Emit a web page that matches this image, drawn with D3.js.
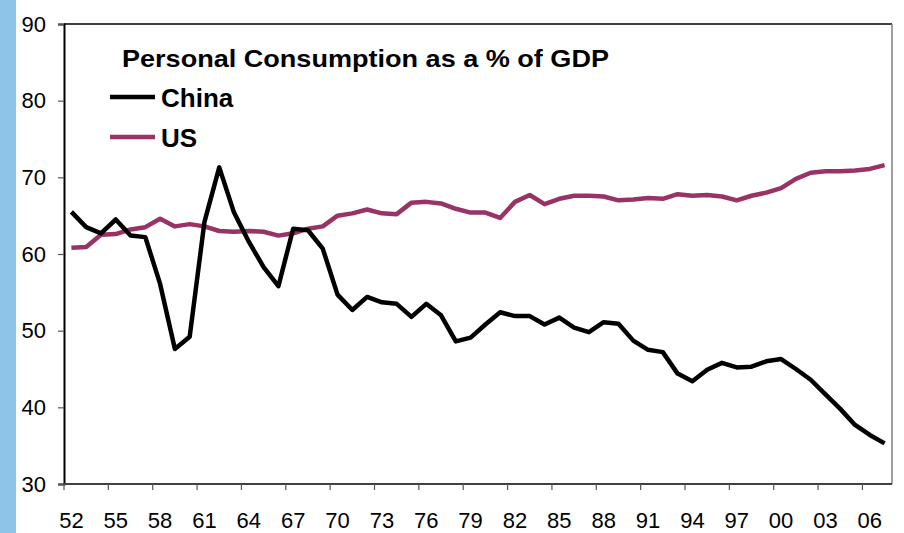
<!DOCTYPE html>
<html lang="en-US">
<head>
<meta charset="utf-8">
<title>Personal Consumption as a % of GDP</title>
<style>
  body { margin: 0; background: #fff; }
  svg { display: block; font-family: "Liberation Sans", Arial, sans-serif; }
</style>
</head>
<body>
<div id="chart"></div>
<script src="https://d3js.org/d3.v7.min.js"></script>
<script>
// years 1952 - 2007
var years = d3.range(1952, 2008);
var yTicks = [30, 40, 50, 60, 70, 80, 90];

var china = [65.5, 63.5, 62.7, 64.5, 62.4, 62.2, 56.1, 47.6, 49.2, 64.2,
             71.3, 65.4, 61.6, 58.3, 55.8, 63.3, 63.1, 60.7, 54.7, 52.7,
             54.4, 53.7, 53.5, 51.8, 53.5, 52.0, 48.6, 49.1, 50.8, 52.4,
             51.9, 51.9, 50.8, 51.7, 50.4, 49.8, 51.1, 50.9, 48.7, 47.5,
             47.2, 44.4, 43.4, 44.9, 45.8, 45.2, 45.3, 46.0, 46.3, 45.0,
             43.6, 41.7, 39.8, 37.7, 36.4, 35.3];

var us = [60.8, 60.9, 62.5, 62.6, 63.2, 63.5, 64.6, 63.6, 63.9, 63.6,
          63.0, 62.9, 63.0, 62.9, 62.4, 62.7, 63.3, 63.6, 65.0, 65.3,
          65.8, 65.3, 65.2, 66.7, 66.8, 66.6, 65.9, 65.4, 65.4, 64.7,
          66.8, 67.7, 66.5, 67.2, 67.6, 67.6, 67.5, 67.0, 67.1, 67.3,
          67.2, 67.8, 67.6, 67.7, 67.5, 67.0, 67.6, 68.0, 68.6, 69.8,
          70.6, 70.8, 70.8, 70.9, 71.1, 71.6];

var width = 904, height = 533;
// plot area edges (don't use "top" - that's window.top)
var pLeft = 64, pRight = 892, pTop = 24, pBottom = 484;

var svg = d3.select("#chart").append("svg")
    .attr("width", width)
    .attr("height", height);

// blue strip on the left edge
svg.append("rect")
    .attr("x", 0).attr("y", 0)
    .attr("width", 16).attr("height", height)
    .attr("fill", "#8EC4E8");

var x = d3.scaleBand()
    .domain(years)
    .range([pLeft, pRight])
    .padding(0);

var y = d3.scaleLinear()
    .domain([30, 90])
    .range([pBottom, pTop]);

// frame: top and right
svg.append("line")
    .attr("x1", pLeft).attr("x2", pRight)
    .attr("y1", pTop).attr("y2", pTop)
    .attr("stroke", "#000").attr("stroke-width", 1.5);
svg.append("line")
    .attr("x1", pRight).attr("x2", pRight)
    .attr("y1", pTop).attr("y2", pBottom)
    .attr("stroke", "#808080").attr("stroke-width", 1.5);

// y axis
var yAxis = svg.append("g")
    .attr("transform", "translate(" + pLeft + ",0)")
    .call(d3.axisLeft(y).tickValues(yTicks).tickSize(6).tickPadding(12));
yAxis.select(".domain").attr("stroke", "#000").attr("stroke-width", 2);
yAxis.selectAll(".tick line").attr("stroke", "#555").attr("stroke-width", 1.2);
yAxis.selectAll(".tick text")
    .attr("font-size", 22)
    .attr("font-family", "Liberation Sans, Arial, sans-serif")
    .attr("fill", "#000");

// x axis: ticks at category boundaries every 3 years, labels under category centres
var xg = svg.append("g").attr("transform", "translate(0," + pBottom + ")");
xg.append("line")
    .attr("x1", pLeft).attr("x2", pRight)
    .attr("stroke", "#404040").attr("stroke-width", 2);
var labelYears = years.filter(function(d, i) { return i % 3 === 0; });
xg.selectAll(".xt")
    .data(labelYears)
    .enter().append("line")
    .attr("class", "xt")
    .attr("x1", function(d) { return x(d); })
    .attr("x2", function(d) { return x(d); })
    .attr("y1", 0).attr("y2", 6)
    .attr("stroke", "#555").attr("stroke-width", 1.2);
xg.selectAll(".xl")
    .data(labelYears)
    .enter().append("text")
    .attr("class", "xl")
    .attr("x", function(d) { return x(d) + x.bandwidth() / 2; })
    .attr("y", 44)
    .attr("text-anchor", "middle")
    .attr("font-size", 22)
    .text(function(d) { return String(d).slice(2); });

// lines
var line = d3.line()
    .x(function(d, i) { return x(years[i]) + x.bandwidth() / 2; })
    .y(function(d) { return y(d); });

svg.append("path")
    .datum(us)
    .attr("d", line)
    .attr("fill", "none")
    .attr("stroke", "#993366")
    .attr("stroke-width", 4.5)
    .attr("stroke-linejoin", "round");

svg.append("path")
    .datum(china)
    .attr("d", line)
    .attr("fill", "none")
    .attr("stroke", "#000")
    .attr("stroke-width", 4.5)
    .attr("stroke-linejoin", "round");

// title
svg.append("text")
    .attr("x", 122).attr("y", 67)
    .attr("font-size", 24)
    .attr("font-weight", "bold")
    .attr("textLength", 487)
    .attr("lengthAdjust", "spacingAndGlyphs")
    .text("Personal Consumption as a % of GDP");

// legend
var legend = [{name: "China", color: "#000", y: 97}, {name: "US", color: "#993366", y: 137}];
var lg = svg.selectAll(".legend")
    .data(legend)
    .enter().append("g")
    .attr("class", "legend");
lg.append("line")
    .attr("x1", 110).attr("x2", 155)
    .attr("y1", function(d) { return d.y; })
    .attr("y2", function(d) { return d.y; })
    .attr("stroke", function(d) { return d.color; })
    .attr("stroke-width", 4.5);
lg.append("text")
    .attr("x", 161)
    .attr("y", function(d) { return d.y + 10; })
    .attr("font-size", 26)
    .attr("font-weight", "bold")
    .text(function(d) { return d.name; });
</script>
</body>
</html>
